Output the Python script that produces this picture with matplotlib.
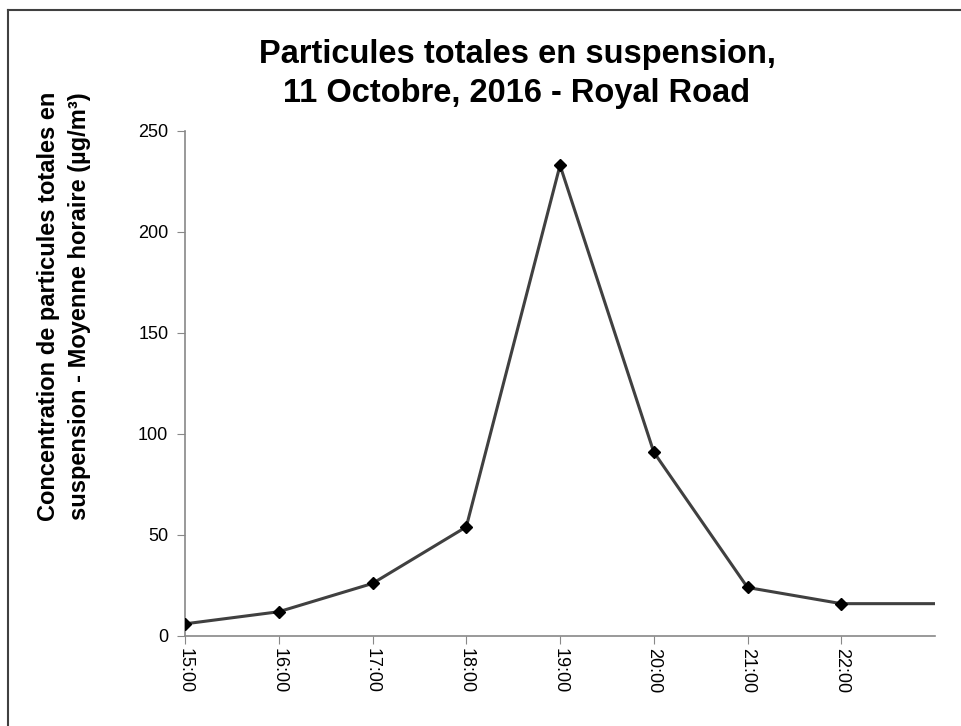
import matplotlib
matplotlib.use('Agg')
import matplotlib.pyplot as plt
from matplotlib.lines import Line2D

plt.rcParams['font.family'] = ['Liberation Sans', 'DejaVu Sans']

hours = ['15:00', '16:00', '17:00', '18:00', '19:00', '20:00', '21:00', '22:00']
tsp = [6, 12, 26, 54, 233, 91, 24, 16]
# last segment runs on to the end of the axis with no marker
tail_value = 16

fig = plt.figure(figsize=(9.61, 7.26), dpi=100)
ax = fig.add_axes([0.1925, 0.124, 0.973 - 0.1925, 0.8196 - 0.124])

x = list(range(len(hours)))
ax.plot(x + [len(hours)], tsp + [tail_value], color='#404040', linewidth=2.2,
        zorder=2)
ax.plot(x, tsp, linestyle='none', marker='D', markersize=6.5,
        color='black', zorder=3)

ax.set_xlim(0, len(hours))
ax.set_ylim(0, 250)
ax.set_xticks(x)
ax.set_xticklabels(hours, rotation=-90, fontsize=13)
ax.set_yticks([0, 50, 100, 150, 200, 250])
ax.tick_params(axis='y', labelsize=13, length=6, pad=6, color='#888888',
               direction='out')
ax.tick_params(axis='x', length=6, pad=3, color='#888888', direction='out')

for side in ['top', 'right']:
    ax.spines[side].set_visible(False)
for side in ['left', 'bottom']:
    ax.spines[side].set_color('#888888')
    ax.spines[side].set_linewidth(1.2)

fig.text(64 / 961, 1 - 306 / 726,
         'Concentration de particules totales en\n'
         'suspension - Moyenne horaire (µg/m³)',
         fontsize=17, fontweight='bold', rotation=90, linespacing=1.45,
         ha='center', va='center')
fig.text(517 / 961, 1 - 74 / 726,
         'Particules totales en suspension,\n11 Octobre, 2016 - Royal Road',
         fontsize=23.5, fontweight='bold', linespacing=1.35,
         ha='center', va='center')

# partial frame around the chart area
fig.add_artist(Line2D([8 / 961, 1], [1 - 10 / 726, 1 - 10 / 726],
                      transform=fig.transFigure, color='#404040', linewidth=1.5))
fig.add_artist(Line2D([8 / 961, 8 / 961], [0, 1 - 10 / 726],
                      transform=fig.transFigure, color='#404040', linewidth=1.5))

fig.savefig('out.png', dpi=100)
